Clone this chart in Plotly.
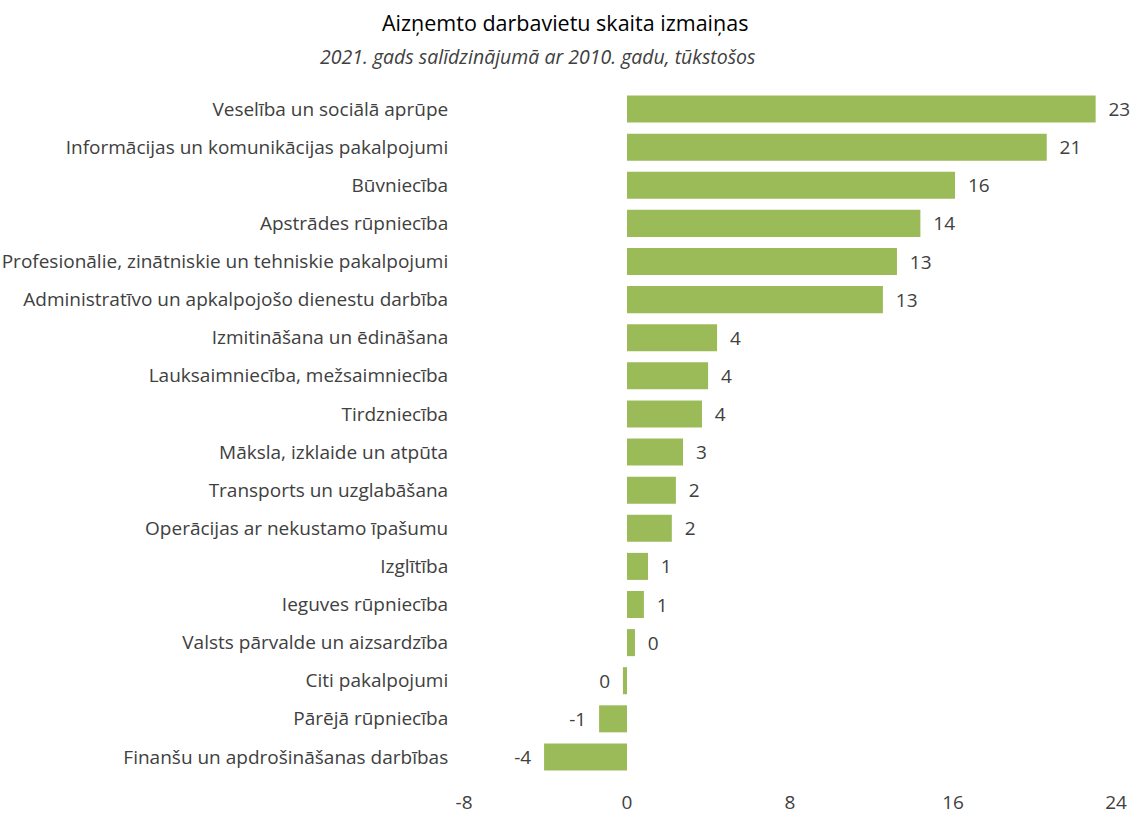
import plotly.graph_objects as go

categories = [
    "Veselība un sociālā aprūpe",
    "Informācijas un komunikācijas pakalpojumi",
    "Būvniecība",
    "Apstrādes rūpniecība",
    "Profesionālie, zinātniskie un tehniskie pakalpojumi",
    "Administratīvo un apkalpojošo dienestu darbība",
    "Izmitināšana un ēdināšana",
    "Lauksaimniecība, mežsaimniecība",
    "Tirdzniecība",
    "Māksla, izklaide un atpūta",
    "Transports un uzglabāšana",
    "Operācijas ar nekustamo īpašumu",
    "Izglītība",
    "Ieguves rūpniecība",
    "Valsts pārvalde un aizsardzība",
    "Citi pakalpojumi",
    "Pārējā rūpniecība",
    "Finanšu un apdrošināšanas darbības",
]
values = [23.0, 20.6, 16.1, 14.4, 13.25, 12.56, 4.42, 3.98, 3.68, 2.75, 2.4, 2.2,
          1.03, 0.83, 0.39, -0.2, -1.37, -4.07]
tick_vals = [-8, 0, 8, 16, 24]

title_text = "Aizņemto darbavietu skaita izmaiņas"
subtitle_text = "2021. gads salīdzinājumā ar 2010. gadu, tūkstošos"

labels = []
for v in values:
    r = int(round(v))
    labels.append(f"  {r}" if v >= 0 else f"{r}  ")

font_family = "Open Sans"
txt_color = "#404040"
fs = 19

fig = go.Figure(go.Bar(
    x=values,
    y=categories,
    orientation="h",
    marker=dict(color="#9BBB59", line=dict(width=0)),
    text=labels,
    textposition="outside",
    textfont=dict(size=fs, color=txt_color, family=font_family),
    cliponaxis=False,
    hoverinfo="x+y",
))

fig.update_layout(
    width=1136, height=817,
    margin=dict(l=464, r=20, t=90, b=41, autoexpand=False),
    paper_bgcolor="white",
    plot_bgcolor="white",
    bargap=0.29,
    showlegend=False,
    font=dict(family=font_family, color=txt_color),
    xaxis=dict(
        range=[-8, 24],
        tickvals=tick_vals,
        ticktext=[str(t) for t in tick_vals],
        showgrid=False, zeroline=False, showline=False,
        tickfont=dict(size=fs, color=txt_color, family=font_family),
        ticks="outside", ticklen=9, tickcolor="rgba(0,0,0,0)",
        automargin=False,
        fixedrange=True,
    ),
    yaxis=dict(
        autorange="reversed",
        showgrid=False, zeroline=False, showline=False,
        tickfont=dict(size=fs, color=txt_color, family=font_family),
        ticks="outside", ticklen=11, tickcolor="rgba(0,0,0,0)",
        automargin=False,
        fixedrange=True,
    ),
    annotations=[
        dict(text=title_text, xref="paper", yref="paper", x=(565 - 464) / 652, y=1,
             yshift=90 - 22, xanchor="center", yanchor="middle", showarrow=False,
             font=dict(size=21.5, color="#000000", family=font_family)),
        dict(text=f"<i>{subtitle_text}</i>", xref="paper", yref="paper", x=(538 - 464) / 652, y=1,
             yshift=90 - 56, xanchor="center", yanchor="middle", showarrow=False,
             font=dict(size=19.5, color=txt_color, family=font_family)),
    ],
)

fig.write_html(
    "out.html",
    config={"displayModeBar": False},
    post_script="document.body.style.margin='0';document.body.style.overflow='hidden';",
)
